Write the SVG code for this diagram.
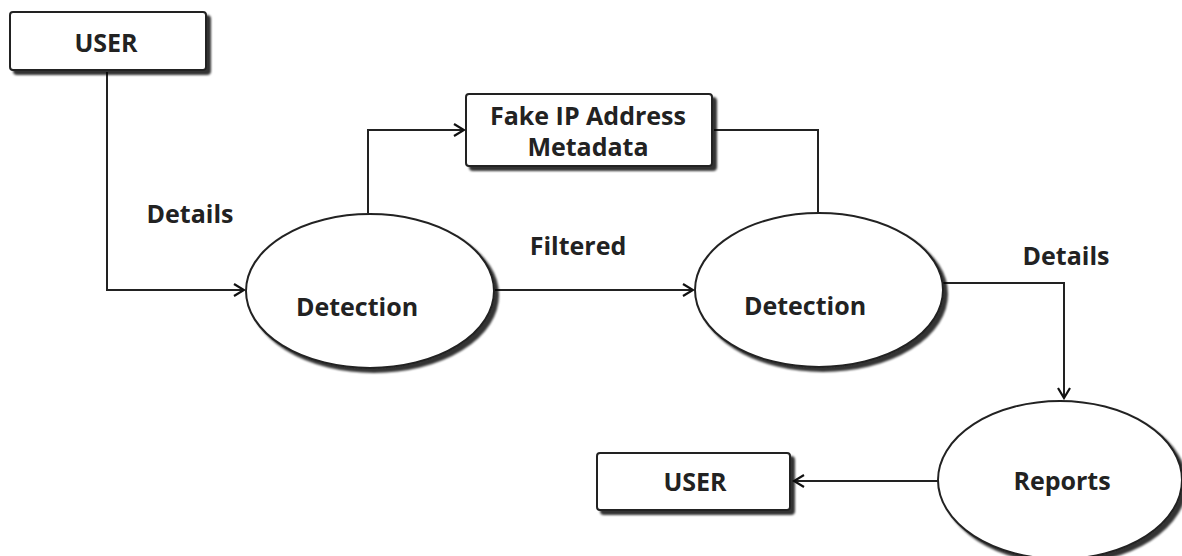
<svg xmlns="http://www.w3.org/2000/svg" width="1182" height="556" viewBox="0 0 1182 556">
<defs>
<marker id="arr" markerWidth="14" markerHeight="14" refX="12" refY="7" orient="auto" markerUnits="userSpaceOnUse">
<polyline points="2,1 12,7 2,13" fill="none" stroke="#111" stroke-width="2.2"/>
</marker>
<filter id="sh" x="-10%" y="-10%" width="130%" height="130%">
<feGaussianBlur in="SourceAlpha" stdDeviation="1"/>
<feOffset dx="4" dy="4"/>
<feComponentTransfer><feFuncA type="linear" slope="0.8"/></feComponentTransfer>
<feMerge><feMergeNode/><feMergeNode in="SourceGraphic"/></feMerge>
</filter>
</defs>
<style>
.box{fill:#fff;stroke:#222;stroke-width:2;filter:url(#sh)}
.ell{fill:#fff;stroke:#222;stroke-width:2;filter:url(#sh)}
.t{font-family:"Open Sans","Liberation Sans",sans-serif;font-weight:bold;font-size:25px;fill:#222;text-anchor:middle}
.c{fill:none;stroke:#222;stroke-width:2}
</style>
<rect width="1182" height="556" fill="#fff"/>
<g id="connectors">
<polyline class="c" points="107,72 107,290 244,290" marker-end="url(#arr)"/>
<polyline class="c" points="368,213 368,130 464,130" marker-end="url(#arr)"/>
<polyline class="c" points="714,130 818,130 818,212"/>
<line class="c" x1="495" y1="290" x2="693" y2="290" marker-end="url(#arr)"/>
<polyline class="c" points="943,283 1064,283 1064,398" marker-end="url(#arr)"/>
<line class="c" x1="938" y1="481" x2="794" y2="481" marker-end="url(#arr)"/>
</g>
<g id="user-top">
<rect class="box" x="10" y="12" width="196" height="58" rx="3"/>
<text class="t" x="106" y="52">USER</text>
</g>
<g id="fake-ip">
<rect class="box" x="466" y="94" width="246" height="72" rx="3"/>
<text class="t" x="588" y="125">Fake IP Address</text>
<text class="t" x="588" y="156">Metadata</text>
</g>
<g id="detection1">
<ellipse class="ell" cx="370" cy="291" rx="124" ry="77"/>
<text class="t" x="357" y="316">Detection</text>
</g>
<g id="detection2">
<ellipse class="ell" cx="819" cy="290" rx="124" ry="77"/>
<text class="t" x="805" y="315">Detection</text>
</g>
<g id="reports">
<ellipse class="ell" cx="1060" cy="480" rx="122" ry="79"/>
<text class="t" x="1062" y="490">Reports</text>
</g>
<g id="user-bottom">
<rect class="box" x="597" y="453" width="193" height="57" rx="3"/>
<text class="t" x="695" y="491">USER</text>
</g>
<g id="labels">
<text class="t" x="190" y="223">Details</text>
<text class="t" x="578" y="255">Filtered</text>
<text class="t" x="1066" y="265">Details</text>
</g>
</svg>
